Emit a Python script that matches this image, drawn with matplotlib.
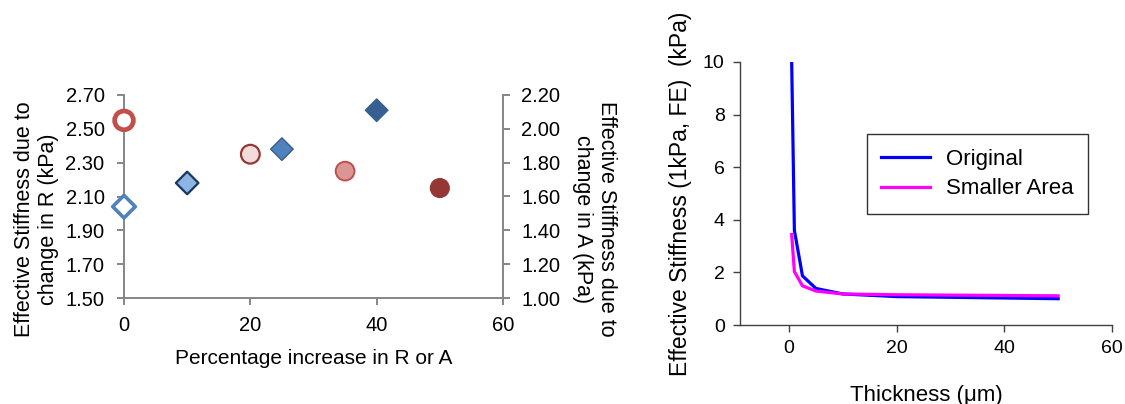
import matplotlib
matplotlib.use("Agg")
import matplotlib.pyplot as plt

plt.rcParams['font.family'] = ['Liberation Sans', 'DejaVu Sans']

# ---- Left chart data ----
pct_R = [0, 10, 25, 40]
stiff_R = [2.04, 2.18, 2.38, 2.61]
pct_A = [0, 20, 35, 50]
stiff_A = [2.05, 1.85, 1.75, 1.65]

R_face = ['#FFFFFF', '#8DB4E2', '#4F81BD', '#376092']
R_edge = ['#4F81BD', '#17375E', '#385D8A', '#376092']
R_lw = [2.6, 1.6, 1.0, 1.0]
A_face = ['#FFFFFF', '#F2DCDB', '#D99694', '#953735']
A_edge = ['#C0504D', '#953735', '#C0504D', '#953735']
A_lw = [3.4, 1.6, 1.4, 1.0]

left_yticks = [1.50, 1.70, 1.90, 2.10, 2.30, 2.50, 2.70]
right_yticks = [1.00, 1.20, 1.40, 1.60, 1.80, 2.00, 2.20]
left_xticks = [0, 20, 40, 60]

# ---- Right chart data ----
thick = [0.5, 1, 2.5, 5, 10, 20, 50]
orig = [10.0, 3.6, 1.87, 1.39, 1.18, 1.08, 1.0]
small = [3.44, 2.03, 1.49, 1.29, 1.18, 1.15, 1.11]
right_xticks = [0, 20, 40, 60]
right_ychart_ticks = [0, 2, 4, 6, 8, 10]

W, H = 1125, 404
fig = plt.figure(figsize=(W / 100, H / 100), dpi=100)

gray = '#868686'

# Left chart
ax1 = fig.add_axes([124 / W, 1 - 298 / H, (503 - 124) / W, (298 - 95) / H])
ax2 = ax1.twinx()
ax1.scatter(pct_R, stiff_R, s=[11.5 ** 2] * 4, marker='D', c=R_face,
            edgecolors=R_edge, linewidths=R_lw, zorder=3, clip_on=False)
ax2.scatter(pct_A, stiff_A, s=[13.5 ** 2] * 4, marker='o', c=A_face,
            edgecolors=A_edge, linewidths=A_lw, zorder=3, clip_on=False)
ax1.set_xlim(0, 60)
ax1.set_ylim(1.50, 2.70)
ax2.set_ylim(1.00, 2.20)
ax1.set_xticks(left_xticks)
ax1.set_yticks(left_yticks)
ax1.set_yticklabels([f"{v:.2f}" for v in left_yticks])
ax2.set_yticks(right_yticks)
ax2.set_yticklabels([f"{v:.2f}" for v in right_yticks])
for a in (ax1, ax2):
    a.spines['top'].set_visible(False)
    for s in ('left', 'right', 'bottom'):
        a.spines[s].set_color(gray)
        a.spines[s].set_linewidth(1.4)
    a.tick_params(axis='both', direction='out', length=5, width=1.4,
                  color=gray, labelsize=14.5, labelcolor='black', pad=9)
ax1.tick_params(axis='x', pad=8)
ax2.tick_params(axis='y', pad=8)
ax1.spines['right'].set_visible(False)
ax2.spines['left'].set_visible(False)
ax2.spines['bottom'].set_visible(False)
ax1.set_xlabel("Percentage increase in R or A", fontsize=15, labelpad=10)
ax1.set_ylabel("Effective Stiffness due to\nchange in R (kPa)", fontsize=15.5,
               linespacing=1.2)
ax1.yaxis.set_label_coords(-0.172, 0.39)
ax2.set_ylabel("Effective Stiffness due to\nchange in A (kPa)", fontsize=15.5,
               rotation=270, linespacing=1.2)
ax2.yaxis.set_label_coords(1.30, 0.39)

# Right chart
ax3 = fig.add_axes([740 / W, 1 - 325 / H, (1112 - 740) / W, (325 - 62) / H])
ax3.plot(thick, orig, color='#0000FF', lw=2.3, label='Original')
ax3.plot(thick, small, color='#FF00FF', lw=2.3, label='Smaller Area')
ax3.set_xlim(-9.1, 60)
ax3.set_ylim(0, 10)
ax3.set_xticks(right_xticks)
ax3.set_yticks(right_ychart_ticks)
for s in ('top', 'right'):
    ax3.spines[s].set_visible(False)
for s in ('left', 'bottom'):
    ax3.spines[s].set_color('#404040')
    ax3.spines[s].set_linewidth(1.0)
ax3.tick_params(axis='both', direction='out', length=5, width=1.0,
                color='#404040', labelsize=14, pad=6)
ax3.set_xlabel("Thickness (\u03bcm)", fontsize=16, labelpad=20)
ax3.set_ylabel("Effective Stiffness (1kPa, FE)  (kPa)", fontsize=16.5, labelpad=8)
leg = ax3.legend(loc='upper left', bbox_to_anchor=(0.341, 0.726), borderaxespad=0,
                 fontsize=16, frameon=True, fancybox=False, handlelength=2.2,
                 handletextpad=0.7, borderpad=0.65, labelspacing=0.4)
leg.get_frame().set_edgecolor('black')
leg.get_frame().set_linewidth(1.0)

fig.savefig("out.png", dpi=100)
